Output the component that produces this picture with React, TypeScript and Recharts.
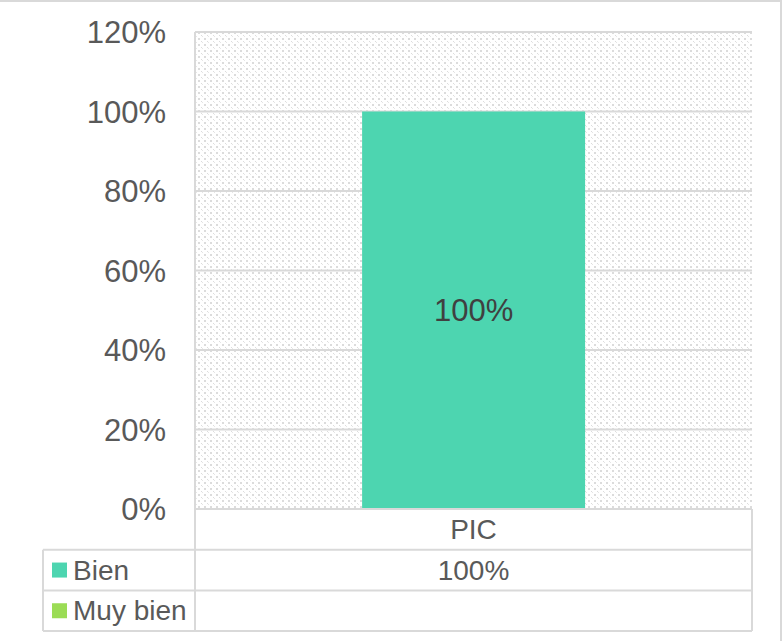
import { BarChart, Bar, XAxis, YAxis, CartesianGrid, LabelList } from 'recharts';

const categories = ['PIC'];
const bienValues = [1.0];
const muyBienValues: (number | null)[] = [null];
const yTicks = [0, 0.2, 0.4, 0.6, 0.8, 1.0, 1.2];

const seriesNames = ['Bien', 'Muy bien'];
const seriesColors = ['#4dd5b0', '#9bdc55'];

const data = categories.map((name, i) => ({
  name,
  bien: bienValues[i],
  muyBien: muyBienValues[i],
}));

const W = 782;
const H = 641;
const PLOT_LEFT = 195;
const PLOT_RIGHT = 752;
const ROW_H = 40.7;
const TABLE_LEFT = 43;
const GRID = '#d9d9d9';
const TEXT = '#595959';
const FONT = '"Liberation Sans", Arial, sans-serif';

const pct = (v: number | null | undefined) =>
  v === null || v === undefined ? '' : `${Math.round(v * 100)}%`;

// draws the category label and the data table under the plot
function TableTick(props: any) {
  const { x, y, payload, index } = props;
  const top = y;
  const bandW = PLOT_RIGHT - PLOT_LEFT;
  const bandL = x - bandW / 2;
  const rows = [bienValues, muyBienValues];
  return (
    <g>
      <line x1={bandL} y1={top} x2={bandL} y2={top + ROW_H * 3} stroke={GRID} strokeWidth={2} />
      <line x1={bandL + bandW} y1={top} x2={bandL + bandW} y2={top + ROW_H * 3} stroke={GRID} strokeWidth={2} />
      <text x={x} y={top + ROW_H / 2} textAnchor="middle" dominantBaseline="central" fill={TEXT} fontSize={28} fontFamily={FONT}>
        {payload.value}
      </text>
      {rows.map((vals, r) => {
        const ry = top + ROW_H * (r + 1);
        return (
          <g key={r}>
            <line x1={TABLE_LEFT} y1={ry} x2={bandL + bandW} y2={ry} stroke={GRID} strokeWidth={2} />
            <rect x={TABLE_LEFT + 9} y={ry + ROW_H / 2 - 7.5} width={15} height={15} fill={seriesColors[r]} />
            <text x={TABLE_LEFT + 30} y={ry + ROW_H / 2} dominantBaseline="central" fill={TEXT} fontSize={28} fontFamily={FONT}>
              {seriesNames[r]}
            </text>
            <text x={x} y={ry + ROW_H / 2} textAnchor="middle" dominantBaseline="central" fill={TEXT} fontSize={28} fontFamily={FONT}>
              {pct(vals[index])}
            </text>
          </g>
        );
      })}
      <line x1={TABLE_LEFT} y1={top + ROW_H} x2={TABLE_LEFT} y2={top + ROW_H * 3} stroke={GRID} strokeWidth={2} />
      <line x1={TABLE_LEFT} y1={top + ROW_H * 3} x2={bandL + bandW} y2={top + ROW_H * 3} stroke={GRID} strokeWidth={2} />
    </g>
  );
}

export default function App() {
  return (
    <div
      style={{
        position: 'absolute',
        left: 0,
        top: 0,
        width: W,
        height: H,
        background: '#fff',
        boxSizing: 'border-box',
        borderTop: `2px solid ${GRID}`,
        borderRight: `2px solid ${GRID}`,
      }}
    >
      <BarChart
        width={W - 2}
        height={H - 2}
        data={data}
        margin={{ top: 30, right: 28, bottom: 10, left: 0 }}
        barCategoryGap="30%"
      >
        <defs>
          <pattern id="hatch" width="6" height="6" patternUnits="userSpaceOnUse">
            <rect width="6" height="6" fill="#ffffff" />
            <rect x="0" y="0" width="2" height="2" fill="#dcdcdc" />
            <rect x="3" y="3" width="1" height="1" fill="#dcdcdc" />
            <rect x="4" y="4" width="1" height="1" fill="#e6e6e6" />
          </pattern>
        </defs>
        <CartesianGrid vertical={false} stroke={GRID} strokeWidth={2} fill="url(#hatch)" />
        <XAxis
          dataKey="name"
          height={122}
          axisLine={{ stroke: GRID, strokeWidth: 2 }}
          tickLine={false}
          tickSize={0}
          tickMargin={0}
          tick={<TableTick />}
          interval={0}
        />
        <YAxis
          width={195}
          domain={[0, 1.2]}
          ticks={yTicks}
          tickFormatter={(v: number) => pct(v)}
          axisLine={{ stroke: GRID, strokeWidth: 2 }}
          tickLine={false}
          tickSize={0}
          tickMargin={29}
          tick={{ fill: TEXT, fontSize: 31, fontFamily: FONT }}
        />
        <YAxis
          yAxisId="right"
          orientation="right"
          width={0}
          axisLine={{ stroke: GRID, strokeWidth: 2 }}
          tick={false}
          tickLine={false}
        />
        <Bar dataKey="bien" stackId="a" name={seriesNames[0]} fill={seriesColors[0]} isAnimationActive={false}>
          <LabelList
            dataKey="bien"
            position="center"
            formatter={(v: any) => pct(v)}
            fill="#404040"
            fontSize={31}
            fontFamily={FONT}
          />
        </Bar>
        <Bar dataKey="muyBien" stackId="a" name={seriesNames[1]} fill={seriesColors[1]} isAnimationActive={false} />
      </BarChart>
    </div>
  );
}
